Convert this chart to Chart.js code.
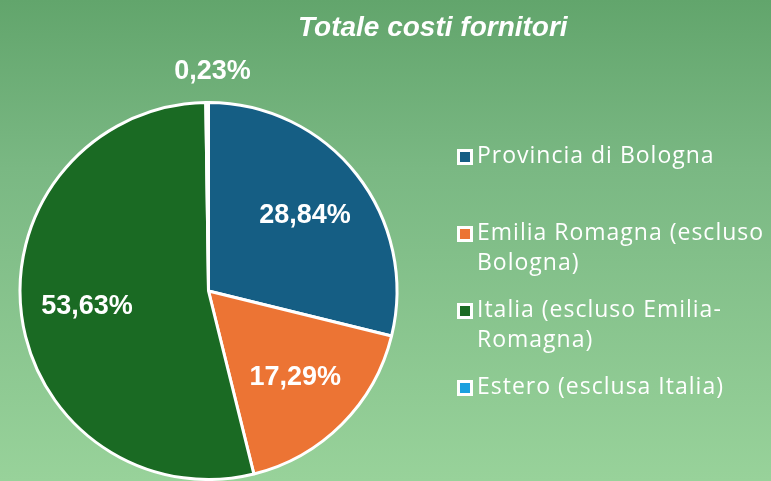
<!DOCTYPE html>
<html>
<head>
<meta charset="utf-8">
<script src="https://cdn.jsdelivr.net/npm/chart.js@4"></script>
<style>
  html, body { margin: 0; padding: 0; }
  body {
    width: 771px; height: 481px; overflow: hidden; position: relative;
    background: linear-gradient(to bottom, #62a56c 0%, #7ab883 35%, #98d29a 100%);
  }
  #wrap { position: absolute; left: 0; top: 0; width: 771px; height: 481px; }
  #title {
    position: absolute; left: 298px; top: 11px;
    font-family: "Liberation Sans", Arial, sans-serif;
    font-weight: bold; font-style: italic; font-size: 28px; color: #fff;
    white-space: nowrap;
  }
  #legend {
    position: absolute; left: 457px; top: 140px; width: 314px;
    font-family: "Open Sans", sans-serif; font-size: 23px; color: #fff;
    letter-spacing: 1px;
  }
  .item { height: 77px; display: flex; align-items: flex-start; }
  .box {
    flex: none; width: 10px; height: 10px; border: 3px solid #fff;
    margin-top: 9px; margin-right: 4px;
  }
  .txt { line-height: 30px; margin-top: -1px; }
</style>
</head>
<body>
<div id="wrap"><canvas id="chart" width="771" height="481"></canvas></div>
<div id="title">Totale costi fornitori</div>
<div id="legend"></div>
<script>
  // Data
  const categories = [
    'Provincia di Bologna',
    'Emilia Romagna (escluso Bologna)',
    'Italia (escluso Emilia-Romagna)',
    'Estero (esclusa Italia)'
  ];
  const percentages = [28.84, 17.29, 53.63, 0.23];
  const sliceColors = ['#155e84', '#ec7434', '#1a6a23', '#1ba0df'];

  // Legend
  const legendEl = document.getElementById('legend');
  categories.forEach((name, i) => {
    const item = document.createElement('div');
    item.className = 'item';
    const box = document.createElement('span');
    box.className = 'box';
    box.style.background = sliceColors[i];
    const txt = document.createElement('span');
    txt.className = 'txt';
    txt.textContent = name;
    item.appendChild(box);
    item.appendChild(txt);
    legendEl.appendChild(item);
  });

  // Percentage labels on the slices
  const sliceLabels = {
    id: 'sliceLabels',
    afterDatasetsDraw(chart) {
      const ctx = chart.ctx;
      const meta = chart.getDatasetMeta(0);
      ctx.save();
      ctx.fillStyle = '#fff';
      ctx.font = 'bold 27px "Liberation Sans", Arial, sans-serif';
      ctx.textAlign = 'center';
      ctx.textBaseline = 'middle';
      meta.data.forEach((arc, i) => {
        const p = arc.getProps(['x', 'y', 'startAngle', 'endAngle', 'outerRadius']);
        const mid = (p.startAngle + p.endAngle) / 2;
        const small = percentages[i] < 1;
        const r = small ? p.outerRadius + 31 : p.outerRadius * 0.65;
        const x = small ? p.x + 4 : p.x + Math.cos(mid) * r;
        const y = p.y + Math.sin(mid) * r;
        const text = percentages[i].toFixed(2).replace('.', ',') + '%';
        ctx.fillText(text, x, y);
      });
      ctx.restore();
    }
  };

  new Chart(document.getElementById('chart'), {
    type: 'pie',
    data: {
      labels: categories,
      datasets: [{
        data: percentages,
        backgroundColor: sliceColors,
        borderColor: '#ffffff',
        borderWidth: 3
      }]
    },
    options: {
      responsive: false,
      animation: false,
      layout: { padding: { left: 16, top: 101, right: 370, bottom: 0 } },
      plugins: {
        legend: { display: false },
        tooltip: { enabled: false }
      }
    },
    plugins: [sliceLabels]
  });
</script>
</body>
</html>
